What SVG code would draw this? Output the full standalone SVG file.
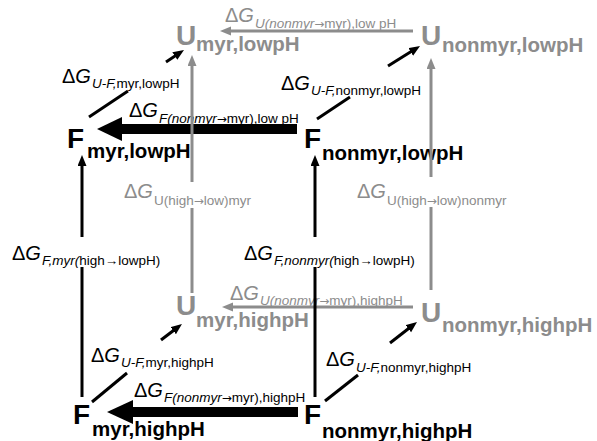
<svg xmlns="http://www.w3.org/2000/svg" width="597" height="441" viewBox="0 0 597 441">
<style>
text{font-family:"Liberation Sans",Arial,Helvetica,sans-serif}
.lbl{font-size:20px}
.sub{font-size:13.5px}
.it{font-style:italic}
.ar{font-family:"DejaVu Sans",sans-serif;font-style:normal;font-size:12px}
.big{font-weight:bold;font-size:28px}
.bsub{font-weight:bold;font-size:20.5px}
.g{fill:#8c8c8c}
.k{fill:#000}
.gl{stroke:#8c8c8c;stroke-width:3;fill:none}
.kl{stroke:#000;stroke-width:3;fill:none}
</style>
<defs>
<marker id="ak" markerUnits="userSpaceOnUse" markerWidth="12" markerHeight="10" refX="2" refY="4.5" orient="auto"><path d="M0,0 L11,4.5 L0,9 z" fill="#000"/></marker>
<marker id="ag" markerUnits="userSpaceOnUse" markerWidth="12" markerHeight="10" refX="2" refY="4.5" orient="auto"><path d="M0,0 L11,4.5 L0,9 z" fill="#8c8c8c"/></marker>
</defs>
<rect width="597" height="441" fill="#fff"/>

<g id="connectors-back">
<line class="gl" x1="413" y1="31" x2="229" y2="31" marker-end="url(#ag)"/>
<line class="gl" x1="413" y1="307" x2="231" y2="307" marker-end="url(#ag)"/>
</g>

<g id="labels-back">
<text class="lbl g" x="225" y="22">Δ<tspan class="it">G</tspan><tspan class="sub" dx="1" dy="6"><tspan class="it">U(nonmyr</tspan><tspan class="ar">→</tspan>myr),low pH</tspan></text>
<text class="lbl g" x="230" y="300">Δ<tspan class="it">G</tspan><tspan class="sub" dx="1" dy="5"><tspan class="it">U(nonmyr</tspan><tspan class="ar">→</tspan>myr),highpH</tspan></text>
</g>

<g id="U_myr_lowpH"><text class="big g" x="176" y="45">U<tspan class="bsub" x="196" y="51">myr,lowpH</tspan></text></g>
<g id="U_nonmyr_lowpH"><text class="big g" x="421" y="45">U<tspan class="bsub" x="442" y="52">nonmyr,lowpH</tspan></text></g>
<g id="U_myr_highpH"><text class="big g" x="176" y="315">U<tspan class="bsub" x="196" y="327">myr,highpH</tspan></text></g>
<g id="U_nonmyr_highpH"><text class="big g" x="421" y="322">U<tspan class="bsub" x="442" y="332">nonmyr,highpH</tspan></text></g>

<g id="F_myr_lowpH"><text class="big k" x="67" y="148">F<tspan class="bsub" x="87" y="158">myr,lowpH</tspan></text></g>
<g id="F_nonmyr_lowpH"><text class="big k" x="304" y="148">F<tspan class="bsub" x="322" y="160">nonmyr,lowpH</tspan></text></g>
<g id="F_myr_highpH"><text class="big k" x="73" y="424">F<tspan class="bsub" x="92" y="436">myr,highpH</tspan></text></g>
<g id="F_nonmyr_highpH"><text class="big k" x="304" y="424">F<tspan class="bsub" x="322" y="438">nonmyr,highpH</tspan></text></g>

<g id="labels-front">
<text class="lbl k" x="62" y="83">Δ<tspan class="it">G</tspan><tspan class="sub" dx="1" dy="5"><tspan class="it">U-F,</tspan>myr,lowpH</tspan></text>
<text class="lbl k" x="129" y="117">Δ<tspan class="it">G</tspan><tspan class="sub" dx="1" dy="6"><tspan class="it">F(nonmyr</tspan><tspan class="ar">→</tspan>myr),low pH</tspan></text>
<text class="lbl k" x="281" y="90">Δ<tspan class="it">G</tspan><tspan class="sub" dx="1" dy="5"><tspan class="it">U-F,</tspan>nonmyr,lowpH</tspan></text>
<text class="lbl g" x="124" y="198">Δ<tspan class="it">G</tspan><tspan class="sub" dx="1" dy="7">U(high<tspan class="ar">→</tspan>low)myr</tspan></text>
<text class="lbl g" x="357" y="198">Δ<tspan class="it">G</tspan><tspan class="sub" dx="1" dy="7">U(high<tspan class="ar">→</tspan>low)nonmyr</tspan></text>
<text class="lbl k" x="12" y="260">Δ<tspan class="it">G</tspan><tspan class="sub" dx="1" dy="5"><tspan class="it">F,myr(</tspan>high→lowpH)</tspan></text>
<text class="lbl k" x="244" y="260">Δ<tspan class="it">G</tspan><tspan class="sub" dx="1" dy="5"><tspan class="it">F,nonmyr(</tspan>high→lowpH)</tspan></text>
<text class="lbl k" x="91" y="362">Δ<tspan class="it">G</tspan><tspan class="sub" dx="1" dy="5"><tspan class="it">U-F,</tspan>myr,highpH</tspan></text>
<text class="lbl k" x="134" y="397">Δ<tspan class="it">G</tspan><tspan class="sub" dx="1" dy="5"><tspan class="it">F(nonmyr</tspan><tspan class="ar">→</tspan>myr),highpH</tspan></text>
<text class="lbl k" x="326" y="366">Δ<tspan class="it">G</tspan><tspan class="sub" dx="1" dy="6"><tspan class="it">U-F,</tspan>nonmyr,highpH</tspan></text>
</g>

<g id="connectors">
<rect x="118" y="124" width="179" height="10" fill="#000"/>
<polygon points="97,129 122,117 122,141" fill="#000"/>
<rect x="130" y="407" width="168" height="10" fill="#000"/>
<polygon points="107,412 133,400 133,424" fill="#000"/>
<line class="kl" x1="89" y1="117" x2="128" y2="91"/>
<line class="kl" x1="166" y1="62" x2="176.5" y2="55" marker-end="url(#ak)"/>
<line class="kl" x1="317" y1="119" x2="350" y2="97"/>
<line class="kl" x1="388" y1="66" x2="412.4" y2="50.8" marker-end="url(#ak)"/>
<line class="kl" x1="92" y1="402" x2="127" y2="373"/>
<line class="kl" x1="161" y1="340" x2="174.8" y2="329.5" marker-end="url(#ak)"/>
<line class="kl" x1="325" y1="401" x2="358" y2="375"/>
<line class="kl" x1="390" y1="343" x2="409.9" y2="327.5" marker-end="url(#ak)"/>
<line class="gl" x1="192" y1="293" x2="192" y2="208"/>
<line class="gl" x1="192" y1="182" x2="192" y2="64" marker-end="url(#ag)"/>
<line class="gl" x1="431" y1="290" x2="431" y2="207"/>
<line class="gl" x1="431" y1="177" x2="431" y2="67" marker-end="url(#ag)"/>
<line class="kl" x1="82" y1="397" x2="82" y2="267"/>
<line class="kl" x1="82" y1="237" x2="82" y2="164" marker-end="url(#ak)"/>
<line class="kl" x1="315" y1="397" x2="315" y2="267"/>
<line class="kl" x1="315" y1="237" x2="315" y2="164" marker-end="url(#ak)"/>
</g>
</svg>
